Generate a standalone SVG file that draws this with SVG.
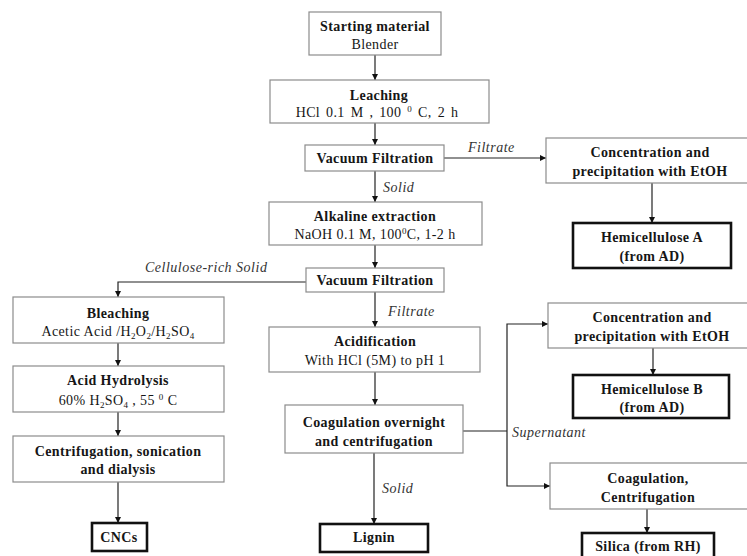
<svg xmlns="http://www.w3.org/2000/svg" width="747" height="556" viewBox="0 0 747 556">
<defs>
<marker id="ah" viewBox="0 0 8 8" refX="8" refY="4" markerWidth="6" markerHeight="6" markerUnits="userSpaceOnUse" orient="auto">
<path d="M0,0 L8,4 L0,8 z" fill="#111"/>
</marker>
<style>
text{font-family:"Liberation Serif","Times New Roman",serif;font-size:14px;letter-spacing:0.4px;fill:#161616;text-anchor:middle}
.b{font-weight:bold}
.r{word-spacing:2px}
.i{font-style:italic;text-anchor:start;fill:#333;letter-spacing:0.5px}
.box{fill:#fff;stroke:#8c8c8c;stroke-width:1.2}
.fin{fill:#fff;stroke:#111;stroke-width:2.6}
.c{fill:none;stroke:#222;stroke-width:1.2}
.ar{marker-end:url(#ah)}
</style>
</defs>
<rect width="747" height="556" fill="#fff"/>
<g id="connectors">
<line class="c ar" x1="375" y1="55" x2="375" y2="80"/>
<line class="c ar" x1="375" y1="123" x2="375" y2="145"/>
<line class="c ar" x1="444" y1="158" x2="546" y2="158"/>
<line class="c ar" x1="375" y1="171" x2="375" y2="202"/>
<line class="c ar" x1="652" y1="183" x2="652" y2="223"/>
<line class="c ar" x1="375" y1="245" x2="375" y2="268"/>
<polyline class="c ar" points="306,282 118,282 118,297"/>
<line class="c ar" x1="375" y1="292" x2="375" y2="327"/>
<line class="c ar" x1="118" y1="343" x2="118" y2="366"/>
<line class="c ar" x1="118" y1="412" x2="118" y2="436"/>
<line class="c ar" x1="118" y1="482" x2="118" y2="523"/>
<line class="c ar" x1="375" y1="372" x2="375" y2="405"/>
<line class="c ar" x1="374" y1="453" x2="374" y2="524"/>
<line class="c" x1="463" y1="431" x2="507" y2="431"/>
<polyline class="c ar" points="507,431 507,324 548,324"/>
<polyline class="c ar" points="507,431 507,486 550,486"/>
<line class="c ar" x1="653" y1="348" x2="653" y2="375"/>
<line class="c ar" x1="647" y1="509" x2="647" y2="533"/>
<text class="i" x="468" y="152">Filtrate</text>
<text class="i" x="383" y="192">Solid</text>
<text class="i" x="145" y="272">Cellulose-rich Solid</text>
<text class="i" x="388" y="316">Filtrate</text>
<text class="i" x="382" y="493">Solid</text>
<text class="i" x="512" y="437">Supernatant</text>
</g>
<g id="start">
<rect class="box" x="309" y="12" width="132" height="43"/>
<text class="b" x="375" y="31">Starting material</text>
<text x="375" y="49">Blender</text>
</g>
<g id="leaching">
<rect class="box" x="270" y="80" width="219" height="43"/>
<text class="b" x="379" y="100">Leaching</text>
<text class="r" x="377" y="117">HCl  0.1 M , 100 <tspan font-size="9" dy="-5">0</tspan><tspan dy="5"> C, 2 h</tspan></text>
</g>
<g id="vf1">
<rect class="box" x="305" y="145" width="139" height="26"/>
<text class="b" x="375" y="163">Vacuum Filtration</text>
</g>
<g id="conc1">
<rect class="box" x="546" y="138" width="206" height="45"/>
<text class="b" x="650" y="157">Concentration and</text>
<text class="b" x="650" y="176">precipitation with EtOH</text>
</g>
<g id="hemiA">
<rect class="fin" x="573" y="223" width="158" height="45"/>
<text class="b" x="652" y="242">Hemicellulose A</text>
<text class="b" x="652" y="261">(from AD)</text>
</g>
<g id="alkaline">
<rect class="box" x="269" y="202" width="213" height="43"/>
<text class="b" x="375" y="221">Alkaline extraction</text>
<text x="375" y="239">NaOH 0.1 M, 100<tspan font-size="9" dy="-5">0</tspan><tspan dy="5">C, 1-2 h</tspan></text>
</g>
<g id="vf2">
<rect class="box" x="306" y="268" width="138" height="24"/>
<text class="b" x="375" y="285">Vacuum Filtration</text>
</g>
<g id="bleaching">
<rect class="box" x="13" y="297" width="211" height="46"/>
<text class="b" x="118" y="318">Bleaching</text>
<text x="118" y="336">Acetic Acid /H<tspan font-size="9" dy="3">2</tspan><tspan dy="-3">O</tspan><tspan font-size="9" dy="3">2</tspan><tspan dy="-3">/H</tspan><tspan font-size="9" dy="3">2</tspan><tspan dy="-3">SO</tspan><tspan font-size="9" dy="3">4</tspan></text>
</g>
<g id="hydrolysis">
<rect class="box" x="13" y="366" width="211" height="46"/>
<text class="b" x="118" y="385">Acid Hydrolysis</text>
<text x="118" y="405">60% H<tspan font-size="9" dy="3">2</tspan><tspan dy="-3">SO</tspan><tspan font-size="9" dy="3">4</tspan><tspan dy="-3"> , 55 </tspan><tspan font-size="9" dy="-5">0</tspan><tspan dy="5"> C</tspan></text>
</g>
<g id="centrifugation">
<rect class="box" x="13" y="436" width="211" height="46"/>
<text class="b" x="118" y="456">Centrifugation, sonication</text>
<text class="b" x="118" y="474">and dialysis</text>
</g>
<g id="cncs">
<rect class="fin" x="92" y="523" width="55" height="28"/>
<text class="b" x="119" y="542">CNCs</text>
</g>
<g id="acidification">
<rect class="box" x="269" y="327" width="211" height="45"/>
<text class="b" x="375" y="346">Acidification</text>
<text x="375" y="365">With HCl (5M) to pH 1</text>
</g>
<g id="coagulation">
<rect class="box" x="285" y="405" width="178" height="48"/>
<text class="b" x="374" y="427">Coagulation overnight</text>
<text class="b" x="374" y="446">and centrifugation</text>
</g>
<g id="lignin">
<rect class="fin" x="320" y="524" width="108" height="28"/>
<text class="b" x="374" y="542">Lignin</text>
</g>
<g id="conc2">
<rect class="box" x="548" y="303" width="204" height="45"/>
<text class="b" x="652" y="322">Concentration and</text>
<text class="b" x="652" y="341">precipitation with EtOH</text>
</g>
<g id="hemiB">
<rect class="fin" x="573" y="375" width="156" height="43"/>
<text class="b" x="652" y="394">Hemicellulose B</text>
<text class="b" x="652" y="412">(from AD)</text>
</g>
<g id="coagcent">
<rect class="box" x="550" y="463" width="202" height="46"/>
<text class="b" x="648" y="483">Coagulation,</text>
<text class="b" x="648" y="502">Centrifugation</text>
</g>
<g id="silica">
<rect class="fin" x="582" y="533" width="132" height="28"/>
<text class="b" x="648" y="551">Silica (from RH)</text>
</g>
</svg>
